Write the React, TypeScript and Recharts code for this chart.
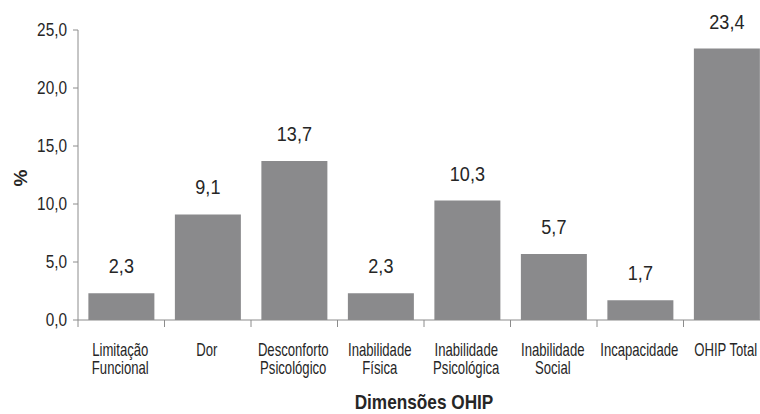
import { BarChart, Bar, XAxis, YAxis, LabelList, Label } from 'recharts'

const categories = [
    ['Limitação', 'Funcional'],
    ['Dor'],
    ['Desconforto', 'Psicológico'],
    ['Inabilidade', 'Física'],
    ['Inabilidade', 'Psicológica'],
    ['Inabilidade', 'Social'],
    ['Incapacidade'],
    ['OHIP Total'],
]
const values = [2.3, 9.1, 13.7, 2.3, 10.3, 5.7, 1.7, 23.4]
const yTicks = [0, 5, 10, 15, 20, 25]

// no narrow font installed, so regular Liberation Sans squeezed horizontally
const FONT = '"Liberation Sans", Arial, sans-serif'
const AXIS = '#8c8c8c'
const BAR = '#8a8a8c'
const TEXT = '#262626'

// plot runs a bit past the right edge, like the original
const CHART_W = 770
const CHART_H = 414
const MARGIN_L = 18
const Y_W = 60
const PLOT_W = CHART_W - MARGIN_L - Y_W
const BAND = PLOT_W / categories.length

const fmt = (v: number) => v.toFixed(1).replace('.', ',')

const data = categories.map((c, i) => ({ name: c.join('|'), value: values[i] }))

function Narrow({ x, y, size, sx = 0.84, anchor = 'middle', bold = false, rotate = 0, children }: any) {
    return (
        <text
            transform={`translate(${x},${y}) rotate(${rotate}) scale(${sx},1)`}
            textAnchor={anchor}
            fontSize={size}
            fontFamily={FONT}
            fontWeight={bold ? 'bold' : 'normal'}
            fill={TEXT}
        >
            {children}
        </text>
    )
}

function CatTick(props: any) {
    const { x, y, payload } = props
    const lines = String(payload.value).split('|')
    const left = x - BAND / 2
    return (
        <g>
            <line x1={left} y1={y - 8} x2={left} y2={y - 1} stroke={AXIS} strokeWidth={1} />
            {lines.map((l, i) => (
                <Narrow key={i} x={x - 1} y={y + 28 + i * 18} size={17.5} sx={0.75}>{l}</Narrow>
            ))}
        </g>
    )
}

function ValTick(props: any) {
    const { x, y, payload } = props
    return <Narrow x={x} y={y + 6} size={18.5} sx={0.83} anchor="end">{fmt(payload.value)}</Narrow>
}

function BarValue(props: any) {
    const { x, y, width, value } = props
    return <Narrow x={x + width / 2} y={y - 20} size={21} sx={0.86}>{fmt(Number(value))}</Narrow>
}

function XTitle(props: any) {
    const { viewBox } = props
    return <Narrow x={viewBox.x + viewBox.width / 2} y={CHART_H - 5} size={20.5} sx={0.84} bold>Dimensões OHIP</Narrow>
}

function YTitle(props: any) {
    const { viewBox } = props
    return <Narrow x={27} y={viewBox.y + viewBox.height / 2 + 3} size={19} sx={1} bold rotate={-90}>%</Narrow>
}

export default function App() {
    return (
        <div style={{ position: 'fixed', left: 0, top: 0, width: 760, height: CHART_H, overflow: 'hidden', background: '#fff' }}>
            <BarChart
                width={CHART_W}
                height={CHART_H}
                data={data}
                margin={{ top: 30, right: 0, bottom: 0, left: MARGIN_L }}
                barCategoryGap="12%"
            >
                <XAxis
                    dataKey="name"
                    stroke={AXIS}
                    tickLine={false}
                    tick={<CatTick />}
                    height={94}
                    interval={0}
                >
                    <Label content={<XTitle />} />
                </XAxis>
                <YAxis
                    width={Y_W}
                    domain={[0, 25]}
                    ticks={yTicks}
                    stroke={AXIS}
                    tickSize={5}
                    tick={<ValTick />}
                    tickMargin={6}
                >
                    <Label content={<YTitle />} />
                </YAxis>
                <Bar dataKey="value" fill={BAR} isAnimationActive={false}>
                    <LabelList dataKey="value" content={<BarValue />} />
                </Bar>
            </BarChart>
        </div>
    )
}
